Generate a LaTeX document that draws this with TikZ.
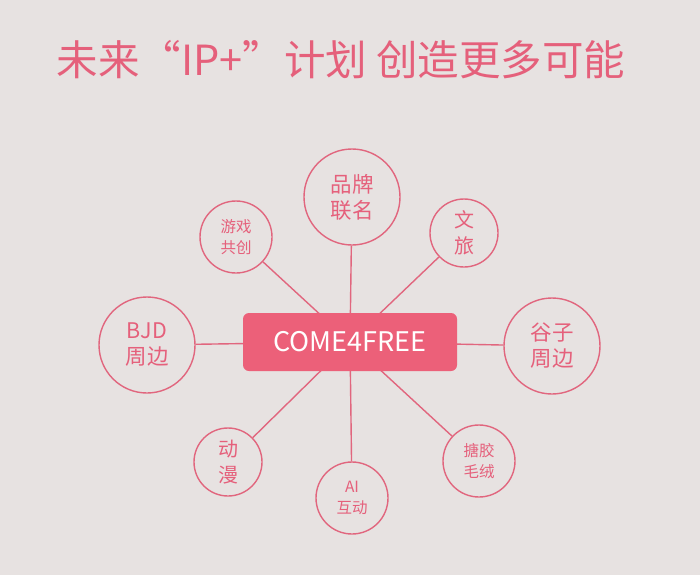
\documentclass[tikz,border=0pt]{standalone}
\usepackage{fontspec}
\newfontfamily\cjk{Noto Sans CJK SC}
\definecolor{bgc}{HTML}{E7E2E1}
\definecolor{pk}{HTML}{E5607B}
\definecolor{boxc}{HTML}{EC6079}
\definecolor{lnc}{HTML}{E1667E}
\begin{document}
\begin{tikzpicture}[x=1pt,y=-1pt,
  bub/.style={circle,draw=lnc,line width=1.4pt,fill=bgc,inner sep=0pt,text=pk,align=center,font=\cjk},
  big/.style={bub,minimum size=96pt,font=\cjk\fontsize{21.5}{26}\selectfont},
  mid/.style={bub,minimum size=68pt,font=\cjk\fontsize{20}{26}\selectfont},
  sml/.style={bub,minimum size=72pt,font=\cjk\fontsize{15.5}{21}\selectfont},
  spoke/.style={draw=lnc,line width=1.4pt}]
\fill[bgc] (0,0) rectangle (700,575);
\node[text=pk,font=\cjk\fontsize{41.5}{44}\selectfont,anchor=center] (title) at (341,60) {未来“IP+”计划 创造更多可能};
\coordinate (ctr) at (350,342);
\node[big] (pp) at (352,197) {品牌\\联名};
\node[sml] (yx) at (236,237) {游戏\\共创};
\node[mid] (wl) at (464,233) {文\\旅};
\node[big] (bjd) at (147,345) {BJD\\周边};
\node[big] (gz) at (552,346) {谷子\\周边};
\node[mid] (dm) at (228,462) {动\\漫};
\node[sml] (ai) at (352,498) {AI\\互动};
\node[sml] (tj) at (479,461) {搪胶\\毛绒};
\foreach \n in {pp,yx,wl,bjd,gz,dm,ai,tj}
  \draw[spoke] (\n) -- (ctr);
\node[fill=boxc,rounded corners=6pt,minimum width=214pt,minimum height=58pt,inner sep=0pt,text=white,font=\cjk\fontsize{27}{30}\selectfont] (box) at (350,342) {COME4FREE};
\end{tikzpicture}
\end{document}
